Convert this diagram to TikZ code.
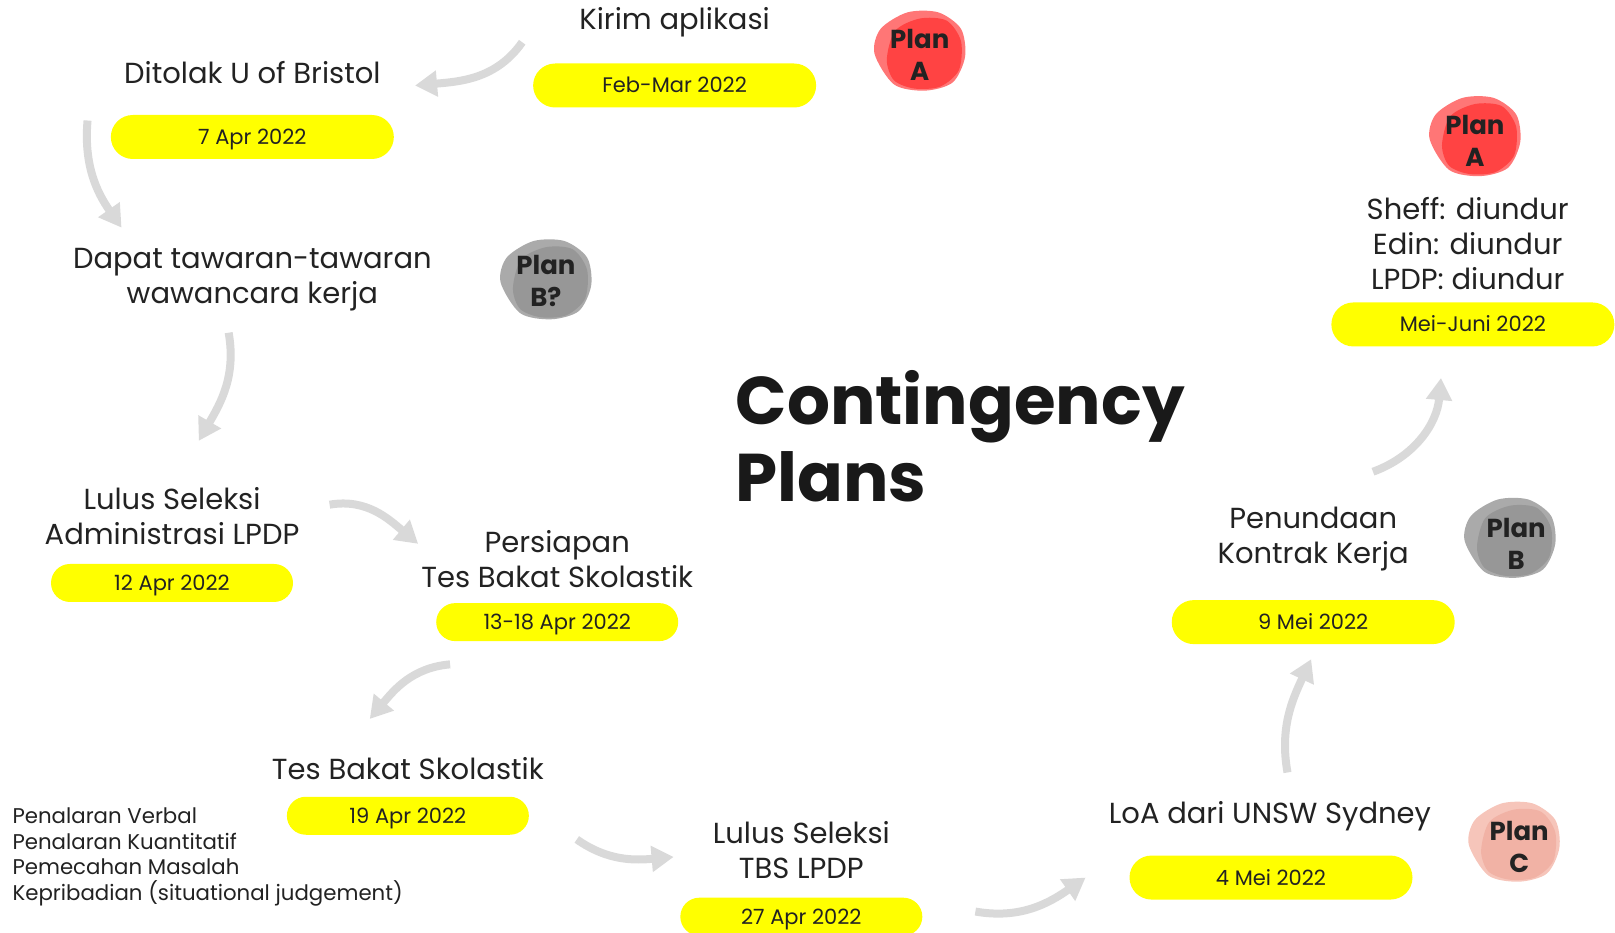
\documentclass[tikz,border=0pt]{standalone}
\usepackage{fontspec}
\setmainfont{Poppins}
\usetikzlibrary{arrows.meta}

\definecolor{tinta}{HTML}{222222}
\definecolor{kuning}{HTML}{FFFF00}
\definecolor{abu}{HTML}{D9D9D9}
\definecolor{merahLuar}{HTML}{FF7676}
\definecolor{merahDalam}{HTML}{FF4343}
\definecolor{abuLuar}{HTML}{AAAAAA}
\definecolor{abuDalam}{HTML}{979797}
\definecolor{pinkLuar}{HTML}{F6C5BA}
\definecolor{pinkDalam}{HTML}{F1B2A5}

\tikzset{
  pics/gumpal/.style 2 args={code={
    \fill[#1] plot[smooth cycle] coordinates {(-44,2) (-38,-22) (-12,-38) (18,-38) (40,-22) (44,5) (32,30) (5,38) (-25,32)};
    \fill[#2] plot[smooth cycle] coordinates {(-32,8) (-24,-20) (0,-32) (26,-30) (40,-10) (38,18) (20,34) (-5,36) (-25,28)};
  }},
}

\begin{document}
\begin{tikzpicture}[
  x=1.03pt, y=-1.03pt,
  teks/.style={font=\fontsize{29}{35}\selectfont, text=tinta, align=center, inner sep=0pt},
  tgl/.style={fill=kuning, text=tinta, font=\fontsize{21}{25}\selectfont, inner sep=0pt, text height=15pt, text depth=0pt},
  tglbesar/.style={tgl, minimum width=283pt, minimum height=44pt, rounded corners=22pt},
  tglkecil/.style={tgl, minimum width=242pt, minimum height=38pt, rounded corners=19pt},
  plan/.style={font=\bfseries\fontsize{26}{32}\selectfont, text=tinta, align=center, inner sep=0pt},
  panah/.style={draw=abu, line width=8pt, -{Triangle[width=25pt,length=22pt]}},
]
\useasboundingbox (0,0) rectangle (1568,905);
% judul
\node[font=\bfseries\fontsize{67.5}{77}\selectfont, text=black!90, align=left, inner sep=0pt, anchor=west] (judul) at (714,424) {Contingency\\Plans};
% plan A: kirim aplikasi
\node[teks] (kirim) at (655,22) {Kirim aplikasi};
\node[tglbesar] (tglKirim) at (655,83) {Feb-Mar 2022};
\pic at (893,50) {gumpal={merahLuar}{merahDalam}};
\node[plan] (planA1) at (893,53) {Plan\\A};
% ditolak
\node[teks] (ditolak) at (245,70) {Ditolak U of Bristol};
\node[tglbesar] (tglDitolak) at (245,133) {7 Apr 2022};
% plan B?
\node[teks] (tawaran) at (245,272) {Dapat tawaran-tawaran\\wawancara kerja};
\pic at (530,272) {gumpal={abuLuar}{abuDalam}};
\node[plan] (planB1) at (530,273) {Plan\\B?};
% LPDP
\node[teks] (admin) at (167,501) {Lulus Seleksi\\Administrasi LPDP};
\node[tglkecil] (tglAdmin) at (167,566) {12 Apr 2022};
\node[teks] (persiapan) at (541,543) {Persiapan\\Tes Bakat Skolastik};
\node[tglkecil] (tglPersiapan) at (541,604) {13-18 Apr 2022};
\node[teks] (tbs) at (396,746) {Tes Bakat Skolastik};
\node[tglkecil] (tglTbs) at (396,792) {19 Apr 2022};
\node[font=\fontsize{21.3}{25.7}\selectfont, text=tinta, align=left, inner sep=0pt, anchor=north west] (materi) at (12,784)
  {Penalaran Verbal\\Penalaran Kuantitatif\\Pemecahan Masalah\\Kepribadian (situational judgement)};
\node[teks] (lulusTbs) at (778,825) {Lulus Seleksi\\TBS LPDP};
\node[tglkecil] (tglLulusTbs) at (778,890) {27 Apr 2022};
% plan C
\node[teks] (loa) at (1233,792) {LoA dari UNSW Sydney};
\node[tglbesar] (tglLoa) at (1234,852) {4 Mei 2022};
\pic at (1470,818) {gumpal={pinkLuar}{pinkDalam}};
\node[plan] (planC) at (1475,822) {Plan\\C};
% plan B
\node[teks] (tunda) at (1275,523) {Penundaan\\Kontrak Kerja};
\node[tglbesar] (tglTunda) at (1275,604) {9 Mei 2022};
\pic at (1466,523) {gumpal={abuLuar}{abuDalam}};
\node[plan] (planB2) at (1472,528) {Plan\\B};
% plan A lagi
\node[teks] (diundur) at (1425,236) {Sheff: diundur\\Edin: diundur\\LPDP: diundur};
\node[tglbesar] (tglDiundur) at (1430,315) {Mei-Juni 2022};
\pic at (1432,133) {gumpal={merahLuar}{merahDalam}};
\node[plan] (planA2) at (1432,137) {Plan\\A};
% panah
\coordinate (a1) at (507,41);   \coordinate (a2) at (403,83);
\coordinate (b1) at (85,117);   \coordinate (b2) at (118,221);
\coordinate (c1) at (222,323);  \coordinate (c2) at (193,428);
\coordinate (d1) at (320,490);  \coordinate (d2) at (406,528);
\coordinate (e1) at (437,645);  \coordinate (e2) at (359,698);
\coordinate (f1) at (560,815);  \coordinate (f2) at (654,832);
\coordinate (g1) at (947,885);  \coordinate (g2) at (1054,852);
\coordinate (h1) at (1250,750); \coordinate (h2) at (1273,640);
\coordinate (i1) at (1333,458); \coordinate (i2) at (1399,367);
\draw[panah] (a1) to[out=235,in=5] (a2);
\draw[panah] (b1) to[out=265,in=125] (b2);
\draw[panah] (c1) to[out=280,in=60] (c2);
\draw[panah] (d1) to[out=10,in=140] (d2);
\draw[panah] (e1) to[out=185,in=50] (e2);
\draw[panah] (f1) to[out=-35,in=185] (f2);
\draw[panah] (g1) to[out=-10,in=215] (g2);
\draw[panah] (h1) to[out=100,in=245] (h2);
\draw[panah] (i1) to[out=20,in=265] (i2);
\end{tikzpicture}
\end{document}
